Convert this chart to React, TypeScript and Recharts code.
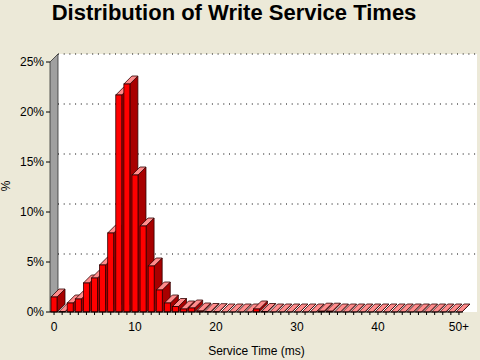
import { BarChart, Bar, XAxis, YAxis, CartesianGrid } from "recharts";

// service time buckets (ms), last one is the overflow bucket
const buckets = [
  "0", "1", "2", "3", "4", "5", "6", "7", "8", "9",
  "10", "11", "12", "13", "14", "15", "16", "17", "18", "19",
  "20", "21", "22", "23", "24", "25", "26", "27", "28", "29",
  "30", "31", "32", "33", "34", "35", "36", "37", "38", "39",
  "40", "41", "42", "43", "44", "45", "46", "47", "48", "49",
  "50+",
];

// percent of writes in each bucket
const percents = [
  1.5, 0.05, 0.9, 1.3, 2.9, 3.4, 4.7, 7.9, 21.7, 22.8,
  13.7, 8.6, 4.6, 2.2, 0.9, 0.55, 0.3, 0.4, 0.1, 0.05,
  0.03, 0, 0, 0, 0, 0.3, 0.05, 0, 0, 0,
  0, 0, 0, 0.08, 0.08, 0, 0, 0, 0, 0,
  0, 0, 0, 0, 0, 0, 0, 0, 0, 0,
  0,
];

const xTickLabels = ["0", "10", "20", "30", "40", "50+"];
const yTicks = [0, 5, 10, 15, 20, 25];

const data = buckets.map((b, i) => ({ bucket: b, pct: percents[i] }));

const W = 480;
const H = 360;
const LEFT = 50;
const TOP = 62;
const RIGHT = 17;
const BOTTOM = 48;
const DEPTH = 8;
const font = '"Liberation Sans", Arial, sans-serif';

function Bar3D(props: any) {
  const { x, y, width, height } = props;
  const d = DEPTH;
  const top = y;
  const bottom = y + height;
  const r = x + width;
  return (
    <g stroke="#300000" strokeWidth={0.8}>
      <polygon
        points={`${r},${bottom} ${r + d},${bottom - d} ${r + d},${top - d} ${r},${top}`}
        fill="#a80000"
      />
      <polygon
        points={`${x},${top} ${x + d},${top - d} ${r + d},${top - d} ${r},${top}`}
        fill="#ff8c8c"
      />
      {height > 0 && <rect x={x} y={top} width={width} height={height} fill="#ff0000" />}
    </g>
  );
}

function BackGridLine(props: any) {
  const { x1, y1, x2, index } = props;
  if (y1 > H - BOTTOM - 2) return <g key={index} />;
  return (
    <line
      key={index}
      x1={x1 + DEPTH}
      x2={x2 + 14}
      y1={y1 - DEPTH}
      y2={y1 - DEPTH}
      stroke="#000"
      strokeWidth={1}
      strokeDasharray="1 4.7"
    />
  );
}

export default function App() {
  const floorY = H - BOTTOM;
  return (
    <div style={{ position: "absolute", left: 0, top: 0, width: W, height: H }}>
      <svg width={W} height={H} style={{ position: "absolute", left: 0, top: 0 }}>
        <rect x={0} y={0} width={W} height={H} fill="#ece9d8" />
        <rect x={LEFT + DEPTH} y={TOP - DEPTH} width={W - 3 - LEFT - DEPTH} height={floorY - TOP + DEPTH} fill="#ffffff" />
        <polygon
          points={`${LEFT},${TOP} ${LEFT + DEPTH},${TOP - DEPTH} ${LEFT + DEPTH},${floorY - DEPTH} ${LEFT},${floorY}`}
          fill="#a0a0a0"
          stroke="#303030"
          strokeWidth={0.8}
        />
        <text
          x={234}
          y={20}
          textAnchor="middle"
          fontFamily={font}
          fontWeight="bold"
          fontSize={22}
          fill="#000"
        >
          Distribution of Write Service Times
        </text>
        <text
          x={10}
          y={186}
          textAnchor="middle"
          fontFamily={font}
          fontSize={12}
          fill="#000"
          transform="rotate(-90 10 186)"
        >
          %
        </text>
      </svg>
      <div style={{ position: "absolute", left: 0, top: 0 }}>
        <BarChart
          width={W}
          height={H}
          data={data}
          margin={{ top: TOP, right: RIGHT, bottom: 0, left: 0 }}
          barCategoryGap={1}
          style={{ fontFamily: font }}
        >
          <CartesianGrid vertical={false} horizontal={BackGridLine} />
          <XAxis
            dataKey="bucket"
            height={BOTTOM}
            interval={0}
            tickSize={3}
            tickMargin={7}
            tick={{ fill: "#000", fontSize: 12 }}
            tickLine={{ stroke: "#000" }}
            axisLine={{ stroke: "#000" }}
            tickFormatter={(v: string) => (xTickLabels.includes(v) ? v : "")}
            label={{ value: "Service Time (ms)", position: "insideBottom", offset: 5, fill: "#000", fontSize: 12 }}
          />
          <YAxis
            width={LEFT}
            domain={[0, 25]}
            ticks={yTicks}
            interval={0}
            tickSize={4}
            tick={{ fill: "#000", fontSize: 12 }}
            tickLine={{ stroke: "#000" }}
            axisLine={false}
            tickFormatter={(v: number) => `${v}%`}
          />
          <Bar dataKey="pct" barSize={6} shape={Bar3D} isAnimationActive={false} />
        </BarChart>
      </div>
    </div>
  );
}
